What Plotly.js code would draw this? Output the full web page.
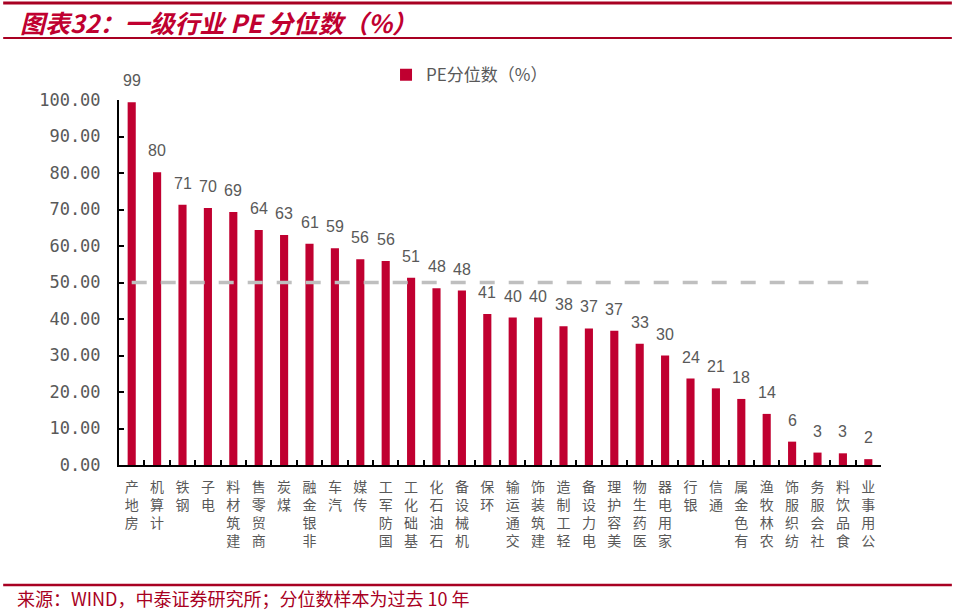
<!DOCTYPE html>
<html><head><meta charset="utf-8">
<script src="https://cdn.plot.ly/plotly-3.0.1.min.js"></script>
<style>html,body{margin:0;padding:0;background:#fff}#chart{width:955px;height:610px}</style>
</head><body><div id="chart"></div>
<script>
const industries = ["房地产","计算机","钢铁","电子","建筑材料","商贸零售","煤炭","非银金融","汽车","传媒","国防军工","基础化工","石油石化","机械设备","环保","交通运输","建筑装饰","轻工制造","电力设备","美容护理","医药生物","家用电器","银行","通信","有色金属","农林牧渔","纺织服饰","社会服务","食品饮料","公用事业"];
const peQuantile = [99.4,80.2,71.3,70.4,69.3,64.4,63.0,60.6,59.4,56.4,55.9,51.3,48.4,47.8,41.4,40.4,40.4,38.0,37.4,36.8,33.2,30.0,23.7,21.0,18.1,14.0,6.4,3.4,3.2,1.6];
const refLevel = 50;
const yTicks = [0,10,20,30,40,50,60,70,80,90,100];

// characters stacked upright, read bottom-to-top (rotated text style)
const tickText = industries.map(s => s.split("").reverse().join("<br>"));
const red = "#C00030";
const darkRed = "#A80022";

const traces = [
  {type:"bar", x:industries, y:peQuantile, name:"PE分位数（%）",
   marker:{color:red}, hoverinfo:"x+y"},
  {type:"scatter", mode:"lines", x:industries, y:industries.map(()=>refLevel),
   line:{color:"#BFBFBF", width:3.5, dash:"15px,14px"}, showlegend:false, hoverinfo:"skip"}
];

const labelAnns = industries.map((c,i)=>({
  x:c, y:peQuantile[i], xref:"x", yref:"y", text:String(Math.round(peQuantile[i])),
  showarrow:false, yanchor:"bottom", yshift:11,
  font:{family:"Liberation Sans, Arial, sans-serif", size:16, color:"#595959"}
}));

const layout = {
  width:955, height:610,
  margin:{l:119, r:74, t:100, b:145},
  paper_bgcolor:"#fff", plot_bgcolor:"#fff",
  bargap:0.68,
  showlegend:true,
  legend:{orientation:"h", x:0.46, xanchor:"center", y:1.068, yanchor:"middle",
    font:{family:"Noto Sans CJK SC, sans-serif", size:17, color:"#595959"},
    itemwidth:30, bgcolor:"rgba(0,0,0,0)"},
  xaxis:{type:"category", tickvals:industries, ticktext:tickText, tickson:"boundaries",
    ticks:"inside", ticklen:5, tickwidth:2, tickcolor:"#000",
    showline:true, linecolor:"#000", linewidth:2, showgrid:false, zeroline:false,
    tickangle:0, ticklabelstandoff:8,
    tickfont:{family:"Noto Sans CJK SC, sans-serif", size:14, color:"#595959"}},
  yaxis:{range:[0,100], tickvals:yTicks, tickformat:".2f",
    ticks:"inside", ticklen:5, tickwidth:2, tickcolor:"#000",
    showline:true, linecolor:"#000", linewidth:2, showgrid:false, zeroline:false,
    ticklabelstandoff:13,
    tickfont:{family:"DejaVu Sans Mono, monospace", size:17, color:"#595959"}},
  annotations: labelAnns.concat([
    {xref:"paper", yref:"paper", x:-0.132, y:1.214, xanchor:"left", yanchor:"middle",
     text:"<b><i>图表32：一级行业 PE 分位数（%）</i></b>", showarrow:false,
     font:{family:"Noto Sans CJK SC, sans-serif", size:25, color:red}},
    {xref:"paper", yref:"paper", x:-0.137, y:-0.364, xanchor:"left", yanchor:"middle",
     text:"来源：WIND，中泰证券研究所；分位数样本为过去 10 年", showarrow:false,
     font:{family:"Noto Sans CJK SC, sans-serif", size:18, color:darkRed}}
  ]),
  shapes:[
    {type:"line", xref:"paper", yref:"paper", x0:-0.152, x1:1.093, y0:1.266, y1:1.266, line:{color:darkRed, width:3}},
    {type:"line", xref:"paper", yref:"paper", x0:-0.152, x1:1.093, y0:1.17, y1:1.17, line:{color:darkRed, width:2}},
    {type:"line", xref:"paper", yref:"paper", x0:-0.152, x1:1.093, y0:-0.329, y1:-0.329, line:{color:darkRed, width:2.5}}
  ]
};

Plotly.newPlot("chart", traces, layout, {displayModeBar:false, staticPlot:true});
</script></body></html>
